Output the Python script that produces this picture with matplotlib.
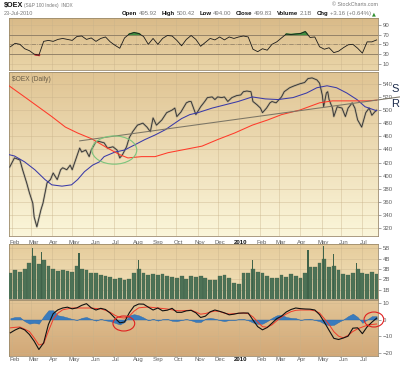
"""
OEX daily chart (StockCharts style): RSI, price with moving averages,
volume and MACD panels.
"""

import numpy as np
import pandas as pd
import matplotlib
matplotlib.use("Agg")
import matplotlib.pyplot as plt
import matplotlib.dates as mdates
from matplotlib.colors import LinearSegmentedColormap
from matplotlib.patches import Ellipse

plt.rcParams["font.family"] = ["Liberation Sans", "DejaVu Sans"]

# =============================================================
# Data
# =============================================================
price_dates = [
    "2009-01-29", "2009-02-05", "2009-02-13", "2009-02-17", "2009-02-23",
    "2009-02-27", "2009-03-04", "2009-03-06", "2009-03-10", "2009-03-16",
    "2009-03-19", "2009-03-25", "2009-03-30", "2009-04-03", "2009-04-09",
    "2009-04-14", "2009-04-17", "2009-04-23", "2009-04-28", "2009-05-01",
    "2009-05-07", "2009-05-12", "2009-05-15", "2009-05-21", "2009-05-26",
    "2009-05-29", "2009-06-05", "2009-06-10", "2009-06-17", "2009-06-22",
    "2009-06-30", "2009-07-06", "2009-07-10", "2009-07-14", "2009-07-20",
    "2009-07-24", "2009-07-29", "2009-08-05", "2009-08-13", "2009-08-19",
    "2009-08-24", "2009-08-28", "2009-09-02", "2009-09-10", "2009-09-17",
    "2009-09-25", "2009-09-29", "2009-10-02", "2009-10-08", "2009-10-16",
    "2009-10-20", "2009-10-23", "2009-10-30", "2009-11-06", "2009-11-12",
    "2009-11-16", "2009-11-23", "2009-11-27", "2009-12-01", "2009-12-07",
    "2009-12-11", "2009-12-16", "2009-12-22", "2009-12-29", "2010-01-04",
    "2010-01-08", "2010-01-13", "2010-01-19", "2010-01-22", "2010-01-28",
    "2010-02-02", "2010-02-05", "2010-02-11", "2010-02-16", "2010-02-19",
    "2010-02-25", "2010-03-05", "2010-03-09", "2010-03-17", "2010-03-24",
    "2010-04-01", "2010-04-08", "2010-04-13", "2010-04-19", "2010-04-26",
    "2010-04-30", "2010-05-04", "2010-05-06", "2010-05-10", "2010-05-12",
    "2010-05-14", "2010-05-19", "2010-05-21", "2010-05-26", "2010-06-02",
    "2010-06-07", "2010-06-11", "2010-06-17", "2010-06-21", "2010-06-25",
    "2010-07-01", "2010-07-07", "2010-07-12", "2010-07-16", "2010-07-20",
    "2010-07-23",
]
price_close = [
    413, 427, 424, 409, 389, 374, 358, 337, 322, 348,
    358, 389, 394, 404, 394, 409, 412, 409, 416, 409,
    427, 442, 436, 439, 429, 439, 452, 452, 450, 442,
    444, 439, 427, 432, 444, 458, 467, 477, 480, 474,
    467, 488, 477, 485, 496, 500, 503, 490, 497, 511,
    513, 513, 493, 505, 513, 519, 520, 516, 520, 519,
    520, 513, 519, 522, 523, 528, 529, 528, 513, 508,
    503, 496, 503, 511, 513, 511, 520, 528, 534, 537,
    540, 542, 548, 549, 546, 541, 523, 505, 526, 528,
    516, 503, 490, 505, 503, 490, 503, 511, 503, 485,
    474, 496, 503, 492, 497, 499.83,
]

ma50_dates = [
    "2009-01-28", "2009-02-05", "2009-02-20", "2009-03-07", "2009-03-22",
    "2009-04-01", "2009-04-16", "2009-04-30", "2009-05-09", "2009-05-19",
    "2009-05-31", "2009-06-10", "2009-06-17", "2009-07-03", "2009-07-17",
    "2009-08-01", "2009-08-16", "2009-08-31", "2009-09-15", "2009-09-29",
    "2009-10-09", "2009-10-21", "2009-11-02", "2009-11-23", "2009-12-12",
    "2009-12-31", "2010-01-21", "2010-02-09", "2010-02-28", "2010-03-22",
    "2010-04-11", "2010-04-26", "2010-05-11", "2010-05-25", "2010-06-09",
    "2010-06-24", "2010-07-06", "2010-07-20", "2010-07-23",
]
ma50_values = [
    432, 430, 421, 409, 394, 386, 384, 386, 394, 406,
    416, 421, 429, 436, 439, 447, 455, 462, 470, 480,
    487, 493, 496, 503, 508, 513, 520, 517, 516, 519,
    526, 534, 537, 534, 526, 516, 505, 500, 499,
]

ma200_dates = [
    "2009-01-28", "2009-02-20", "2009-03-12", "2009-04-01", "2009-04-21",
    "2009-05-09", "2009-05-30", "2009-06-22", "2009-07-10", "2009-07-22",
    "2009-08-11", "2009-08-31", "2009-09-19", "2009-10-09", "2009-11-08",
    "2009-12-01", "2009-12-26", "2010-01-21", "2010-02-13", "2010-03-05",
    "2010-04-01", "2010-04-30", "2010-05-19", "2010-06-18", "2010-07-09",
    "2010-07-23",
]
ma200_values = [
    537, 520, 505, 490, 474, 465, 456, 442, 432, 427,
    429, 429, 435, 439, 445, 455, 465, 477, 485, 493,
    500, 511, 514, 514, 514, 515,
]

trend_dates = ["2009-05-12", "2010-08-26"]
trend_values = [453, 520]

weeks = pd.date_range("2009-01-30", "2010-07-23", freq="W-FRI")

rsi_values = [
    45, 52, 50, 41, 37, 30, 28, 56, 58, 56,
    60, 62, 60, 58, 66, 67, 60, 63, 56, 62,
    65, 55, 48, 42, 63, 71, 74, 72, 66, 50,
    62, 50, 62, 68, 67, 58, 47, 60, 68, 60,
    46, 54, 62, 59, 65, 59, 65, 62, 65, 67,
    65, 40, 35, 41, 38, 50, 55, 63, 71, 70,
    71, 72, 76, 64, 65, 45, 40, 43, 33, 36,
    43, 49, 50, 42, 32, 55, 55, 59,
]

macd_values = [
    -8, -6.3, -5, -6.2, -9, -13, -18, -14, -3, 3.5,
    5.8, 6.9, 7.4, 6.4, 7, 8.5, 9.5, 7, 5.7, 6.7,
    6, 3.8, 0.8, -2, -1.5, 4, 8, 9.3, 9.2, 7.4,
    5.7, 6.9, 5.2, 5.6, 6.7, 4.3, 4.3, 5.2, 5.5, 4,
    1.2, 2, 4.6, 5.7, 4.9, 4, 2.8, 3.2, 3.8, 3.9,
    3.9, -0.3, -4.3, -6.2, -4.8, -2.2, 0.5, 2, 4.5, 6,
    6.9, 6.5, 6.3, 6.2, 5.7, 2.9, -1.6, -6.5, -11.3, -12,
    -11.1, -10, -5.2, -5, -8.5, -4.4, -1.6, 0.8,
]
signal_values = [
    -5, -4.7, -4.5, -5.8, -7.2, -11, -15.3, -14.5, -7, 0,
    3.8, 5.8, 6.4, 6.9, 6.9, 6.9, 6.9, 6.9, 6.6, 6.4,
    5.5, 4.3, 2.5, 1.2, 0.9, 2, 5, 7, 7.3, 7.5,
    7.2, 6.9, 6.6, 6.3, 5.8, 5.3, 5.2, 5.4, 5.6, 4.5,
    3.2, 3.6, 4.4, 5.1, 4.8, 3.8, 3.3, 3.5, 3.7, 3.9,
    3.5, 1.6, -1.5, -4.3, -4.6, -3.2, -0.8, 1.5, 3.3, 4.7,
    5.5, 5.7, 5.7, 5.7, 5.2, 3.9, 0.5, -3, -7.3, -10,
    -11, -9.5, -7.2, -5.6, -4.5, -3.5, -3, -2.7,
]
hist_values = [
    0.8, 1.5, 1.5, -1, -2.5, -2, -2.5, 2, 5.5, 5.5,
    2.5, 2, 1.2, 0.3, -0.3, 1, 1.5, 0.3, -0.7, 0.4,
    -0.5, -1, -2, -3, -1.5, 2.5, 3.2, 2.5, 1.2, -0.5,
    0.4, -0.7, 0.2, 0.4, -0.8, -1, -0.3, 0.3, -0.5, -1.5,
    -1.5, 0.5, 1, 0.5, -0.4, -1, -0.3, -0.3, 0.2, 0.3,
    -0.5, -1.8, -2.6, -2.5, -1, 1, 2.5, 2.8, 1.5, 1,
    0.8, -0.3, 0.3, 0.5, -0.3, -1, -2.5, -3.5, -3.2, -1.5,
    0, 2, 3.5, 1.5, -2, 0, 2, 2,
]

# volume in billions of shares
volume_values = [
    2.6, 2.9, 2.7, 3.0, 3.6, 4.2, 3.5, 3.9, 3.3, 3.0,
    2.8, 2.9, 2.8, 2.7, 3.3, 3.0, 2.9, 2.6, 2.6, 2.4,
    2.3, 2.2, 2.0, 2.1, 1.9, 2.0, 2.6, 3.0, 2.6, 2.4,
    2.5, 2.4, 2.5, 2.3, 2.2, 2.1, 2.3, 2.0, 2.3, 2.2,
    2.3, 2.1, 1.9, 1.9, 2.3, 2.4, 2.1, 1.6, 1.5, 2.6,
    2.6, 3.0, 2.7, 2.6, 2.3, 2.1, 2.1, 2.4, 2.2, 2.5,
    2.3, 2.1, 2.6, 3.2, 3.2, 3.6, 4.0, 3.2, 3.3, 2.9,
    2.5, 2.4, 2.6, 3.0, 2.6, 2.5, 2.7, 2.5,
]
spike_dates = ["2009-03-04", "2009-03-17", "2009-05-11", "2009-08-07",
               "2010-01-21", "2010-04-13", "2010-05-06", "2010-05-21",
               "2010-06-24"]
spike_values = [5.0, 4.6, 4.5, 3.9, 3.9, 4.8, 5.2, 4.4, 3.6]

price_ticks = list(range(320, 541, 20))
rsi_ticks = [10, 30, 50, 70, 90]
vol_ticks = [1, 2, 3, 4, 5]
vol_labels = ["1B", "2B", "3B", "4B", "5B"]
macd_ticks = [-20, -10, 0, 10]

header_items = [("Open", "495.92"), ("High", "500.42"), ("Low", "494.00"),
                ("Close", "499.83"), ("Volume", "2.1B"),
                ("Chg", "+3.16 (+0.64%)")]

# =============================================================
# Layout helpers
# =============================================================
W, H = 400, 365
GRID = "#c8b28a"
SPINE = "#9c8b6c"
TICK = "#5e5e5e"
X0, X1 = pd.Timestamp("2009-01-28"), pd.Timestamp("2010-07-25")

fig = plt.figure(figsize=(W / 100, H / 100), dpi=100)
fig.patch.set_facecolor("white")


def panel(top, bottom):
    return fig.add_axes([9 / W, 1 - bottom / H, 369 / W, (bottom - top) / H])


def ftext(x, y, s, **kw):
    return fig.text(x / W, 1 - y / H, s, **kw)


def shade(ax, top, bottom):
    cmap = LinearSegmentedColormap.from_list("bg", [bottom, top])
    grad = np.linspace(0, 1, 128).reshape(-1, 1)
    ax.imshow(grad, cmap=cmap, aspect="auto", extent=[0, 1, 0, 1],
              transform=ax.transAxes, origin="lower", zorder=0)


month_starts = pd.date_range("2009-02-01", "2010-07-01", freq="BMS")


def style(ax, ylim, ticks, labels=None):
    ax.set_xlim(X0, X1)
    ax.set_ylim(*ylim)
    ax.set_xticks(month_starts)
    ax.set_yticks(ticks)
    if labels is not None:
        ax.set_yticklabels(labels)
    ax.yaxis.tick_right()
    ax.tick_params(axis="x", length=0, labelbottom=False)
    ax.tick_params(axis="y", length=2, width=0.4, pad=1.2,
                   labelsize=4.3, colors=TICK)
    ax.grid(True, color=GRID, linewidth=0.4, alpha=0.7, zorder=1)
    for sp in ax.spines.values():
        sp.set_color(SPINE)
        sp.set_linewidth(0.6)


def month_labels(ax):
    for d in month_starts:
        bold = d.month == 1
        ax.text(d + pd.Timedelta(days=3), -0.025,
                "2010" if bold else d.strftime("%b"),
                transform=ax.get_xaxis_transform(), ha="center", va="top",
                fontsize=4.3, color="#111" if bold else TICK,
                fontweight="bold" if bold else "normal")


# =============================================================
# RSI panel
# =============================================================
ax_rsi = panel(18, 70)
rsi = np.array(rsi_values, dtype=float)
ax_rsi.plot(weeks, rsi, color="#1a1a1a", linewidth=0.6, zorder=4)
ax_rsi.fill_between(weeks, rsi, 70, where=rsi >= 70, interpolate=True,
                    color="#3f8f3f", zorder=3)
ax_rsi.fill_between(weeks, rsi, 30, where=rsi <= 30, interpolate=True,
                    color="#c83a3a", zorder=3)
ax_rsi.axhline(70, color="#8a7a62", linewidth=0.6, zorder=2)
ax_rsi.axhline(30, color="#8a7a62", linewidth=0.6, zorder=2)
ax_rsi.axhline(50, color="#8a7a62", linewidth=0.5, linestyle="-.", zorder=2)
shade(ax_rsi, "#d9ba88", "#ead5a8")
style(ax_rsi, (-2.4, 103.7), rsi_ticks)

# =============================================================
# Price panel
# =============================================================
ax_px = panel(72, 236)
pdates = pd.to_datetime(price_dates)
ax_px.plot(pdates, price_close, color="#9a9586", linewidth=1.6,
           alpha=0.55, zorder=3)
ax_px.plot(pdates, price_close, color="#2e2e2e", linewidth=0.6, zorder=4)
ax_px.plot(pd.to_datetime(ma50_dates), ma50_values, color="#3a3aa8",
           linewidth=0.75, zorder=5)
ax_px.plot(pd.to_datetime(ma200_dates), ma200_values, color="#ff3a2a",
           linewidth=0.75, zorder=5)
ax_px.plot(pd.to_datetime(trend_dates), trend_values, color="#7b7565",
           linewidth=0.75, zorder=5, clip_on=False)
ax_px.add_patch(Ellipse((mdates.date2num(pd.Timestamp("2009-07-02")), 439),
                        66, 43, fill=False, edgecolor="#7cc47c",
                        linewidth=0.8, zorder=6))
ax_px.text(0.008, 0.975, "$OEX (Daily)", transform=ax_px.transAxes,
           ha="left", va="top", fontsize=4.8, color="#6a5d48", zorder=7)
shade(ax_px, "#e0c493", "#fbf6da")
style(ax_px, (308, 558), price_ticks)
month_labels(ax_px)

ftext(391, 89, "S", fontsize=8, color="#1c2c4c", ha="left", va="center")
ftext(391, 104, "R", fontsize=8, color="#1c2c4c", ha="left", va="center")

# =============================================================
# Volume panel
# =============================================================
ax_vol = panel(244, 299)
ax_vol.bar(weeks, volume_values, width=5.6, color="#4d7256",
           edgecolor="#3c5c45", linewidth=0.2, zorder=3)
ax_vol.bar(pd.to_datetime(spike_dates), spike_values, width=1.6,
           color="#3f6249", zorder=3)
shade(ax_vol, "#e6cc9c", "#f3e4bd")
style(ax_vol, (0.1, 5.4), vol_ticks, vol_labels)

# =============================================================
# MACD panel
# =============================================================
ax_macd = panel(300, 356)
hist = np.array(hist_values, dtype=float)
ax_macd.fill_between(weeks, hist, 0, color="#3a7bbd", linewidth=0.3,
                     edgecolor="#2e6aa8", zorder=3)
ax_macd.plot(weeks, signal_values, color="#f03a2a", linewidth=0.7, zorder=4)
ax_macd.plot(weeks, macd_values, color="#111111", linewidth=0.8, zorder=5)
for day, val, w, h in [("2009-07-16", -2.4, 32, 9), ("2010-07-19", 0.0, 29, 9)]:
    ax_macd.add_patch(Ellipse((mdates.date2num(pd.Timestamp(day)), val), w, h,
                              fill=False, edgecolor="#e02020", linewidth=0.8,
                              zorder=6, clip_on=False))
shade(ax_macd, "#e2c597", "#d2a877")
style(ax_macd, (-21.9, 11.7), macd_ticks)
month_labels(ax_macd)

# =============================================================
# Header
# =============================================================
ftext(4, 5.5, "$OEX", fontsize=5.2, fontweight="bold", color="#111",
      va="center")
ftext(24, 5.8, "(S&P 100 Index)  INDX", fontsize=3.4, color="#777",
      va="center")
ftext(378, 5, "© StockCharts.com", fontsize=3.8, color="#777",
      ha="right", va="center")
ftext(4, 13.5, "23-Jul-2010", fontsize=4.0, color="#777", va="center")

# quote line: laid out right to left so the pieces never collide
renderer = fig.canvas.get_renderer()
x = 371.0
arrow = ftext(x + 1, 13.5, "▲", fontsize=3.6, color="#2f8f2f", va="center",
              ha="left", family="DejaVu Sans")
for label, value in reversed(header_items):
    t_val = ftext(x, 13.5, value, fontsize=4.3, color="#777",
                  va="center", ha="right")
    x -= t_val.get_window_extent(renderer).width + 1.6
    t_lab = ftext(x, 13.5, label, fontsize=4.3, color="#111",
                  fontweight="bold", va="center", ha="right")
    x -= t_lab.get_window_extent(renderer).width + 4.5

fig.savefig("out.png", dpi=100)
